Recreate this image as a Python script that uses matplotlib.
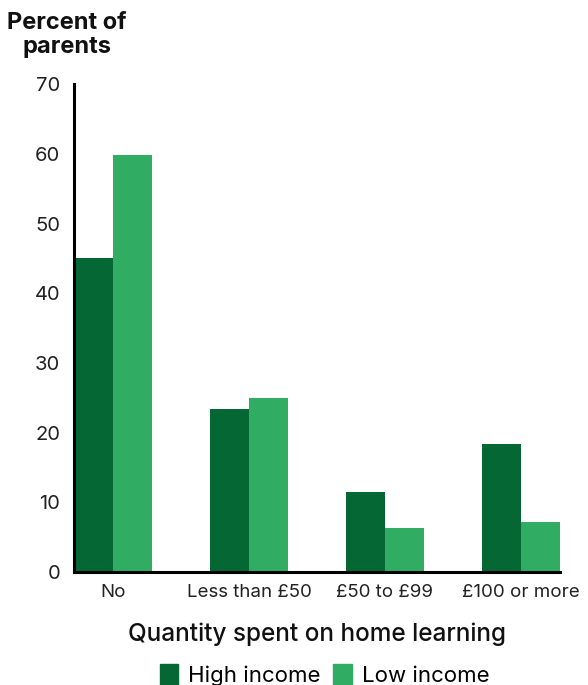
#!/usr/bin/env python3
import numpy as np
import matplotlib
matplotlib.use("Agg")
import matplotlib.pyplot as plt
from matplotlib.patches import Patch

plt.rcParams['font.family'] = ['Inter', 'DejaVu Sans']

# Data
categories = ['No', 'Less than £50', '£50 to £99', '£100 or more']
high_income = [45, 23.4, 11.5, 18.4]
low_income = [59.9, 24.9, 6.3, 7.2]

dark = '#056734'
light = '#30ac63'

fig = plt.figure(figsize=(5.88, 6.85), dpi=100)
ax = fig.add_axes([0.126, 0.165, 0.826, 0.712])

x = np.arange(len(categories))
w = 0.285
ax.bar(x - w / 2, high_income, width=w, color=dark, label='High income')
ax.bar(x + w / 2, low_income, width=w, color=light, label='Low income')

ax.set_xlim(-0.287, 3.287)
ax.set_ylim(0, 70)
ax.set_yticks(np.arange(0, 71, 10))
ax.set_xticks(x)
ax.set_xticklabels(categories, fontsize=13.5, color='#222222')
ax.tick_params(axis='y', labelsize=14.5, length=0, pad=10, labelcolor='#222222')
ax.tick_params(axis='x', length=0, pad=9)

for s in ['top', 'right']:
    ax.spines[s].set_visible(False)
ax.spines['left'].set_linewidth(2.2)
ax.spines['bottom'].set_linewidth(2.2)

ax.set_xlabel('Quantity spent on home learning', fontsize=17.5, fontweight='medium',
              color='#111111', labelpad=15)

fig.text(0.012, 0.983, 'Percent of\nparents', fontsize=17, fontweight='bold',
         ha='left', va='top', color='#111111', linespacing=1.15, multialignment='center')

handles = [Patch(color=dark, label='High income'), Patch(color=light, label='Low income')]
fig.legend(handles=handles, loc='lower center', bbox_to_anchor=(0.552, -0.031), ncol=2,
           frameon=False, fontsize=16, handlelength=0.85, handleheight=1.15,
           handletextpad=0.45, columnspacing=0.55)

fig.savefig('out.png', dpi=100)
